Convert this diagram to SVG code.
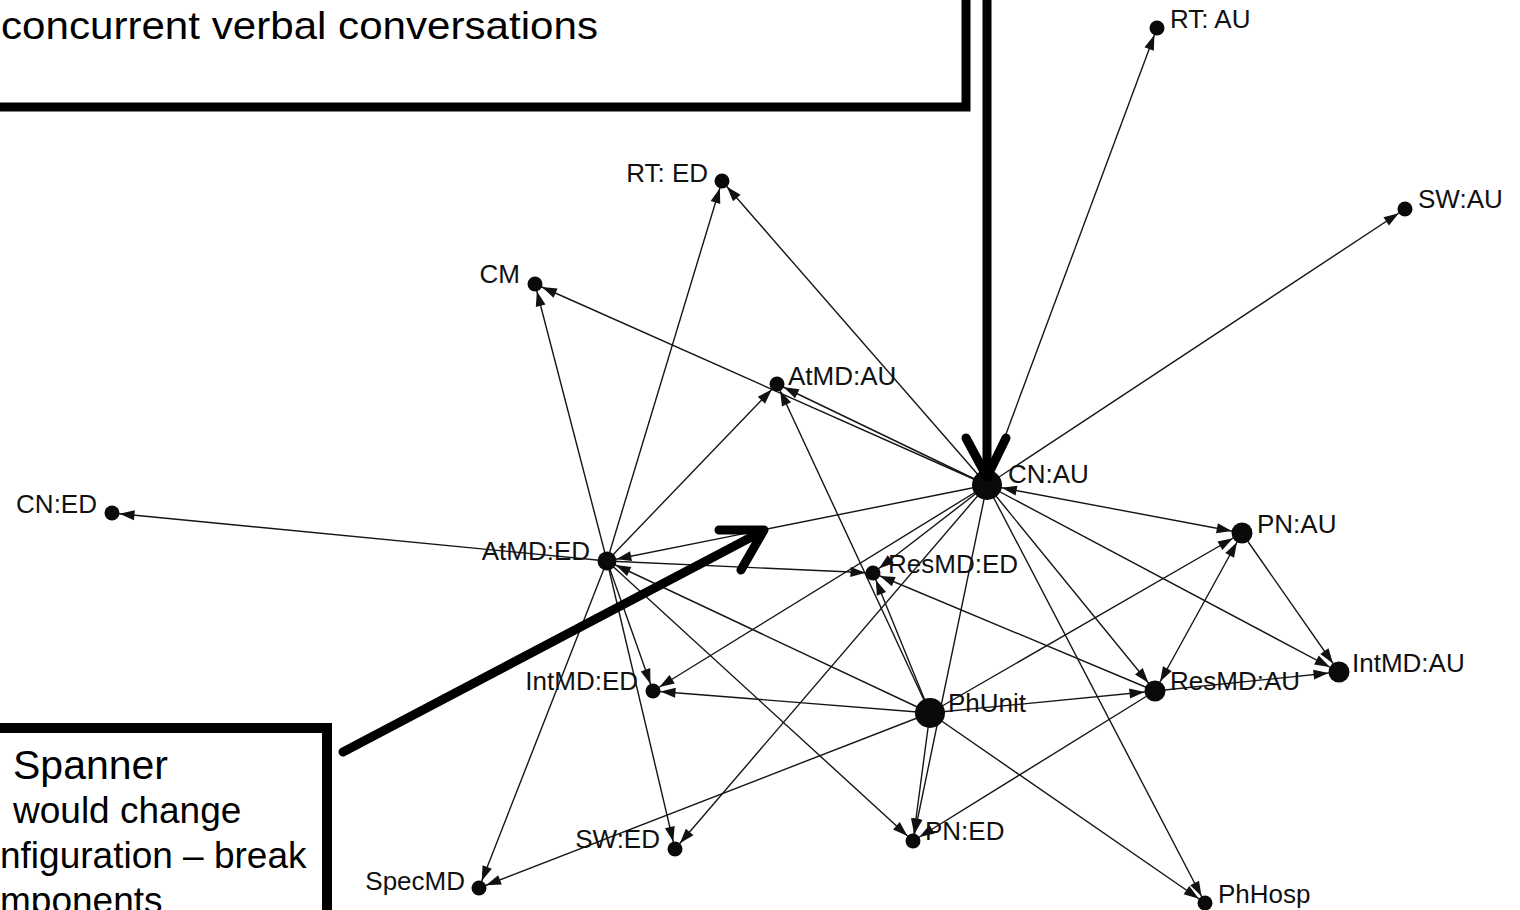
<svg xmlns="http://www.w3.org/2000/svg" width="1520" height="910" viewBox="0 0 1520 910">
<style>
.bg{fill:#ffffff}
.e{stroke:#151515;stroke-width:1.4;fill:none}
.n{fill:#0a0a0a}
.lb{font-family:"Liberation Sans",Arial,sans-serif;font-size:26px;fill:#111}
.le{font-family:"Liberation Sans",Arial,sans-serif;font-size:26px;fill:#111;text-anchor:end}
.box{fill:none;stroke:#000;stroke-width:9}
.big{stroke:#000;stroke-width:9;fill:none;stroke-linecap:round;stroke-linejoin:round}
.t1{font-family:"Liberation Sans",Arial,sans-serif;font-size:41px;fill:#000}
.t2{font-family:"Liberation Sans",Arial,sans-serif;font-size:37px;fill:#000}
</style>
<defs>
<marker id="m7" markerUnits="userSpaceOnUse" orient="auto-start-reverse" refX="7.5" refY="0" markerWidth="20" markerHeight="20" overflow="visible"><path d="M0,0 L-15,-5 L-15,5 Z" fill="#111"/></marker>
<marker id="m9" markerUnits="userSpaceOnUse" orient="auto-start-reverse" refX="9.5" refY="0" markerWidth="20" markerHeight="20" overflow="visible"><path d="M0,0 L-15,-5 L-15,5 Z" fill="#111"/></marker>
<marker id="m10" markerUnits="userSpaceOnUse" orient="auto-start-reverse" refX="10.5" refY="0" markerWidth="20" markerHeight="20" overflow="visible"><path d="M0,0 L-15,-5 L-15,5 Z" fill="#111"/></marker>
<marker id="m14" markerUnits="userSpaceOnUse" orient="auto-start-reverse" refX="15" refY="0" markerWidth="20" markerHeight="20" overflow="visible"><path d="M0,0 L-15,-5 L-15,5 Z" fill="#111"/></marker>
</defs>
<rect class="bg" x="0" y="0" width="1520" height="910"/>

<g id="connectors">
<line class="e" x1="987" y1="485" x2="1157" y2="28" marker-end="url(#m7)"/>
<line class="e" x1="987" y1="485" x2="1405" y2="209" marker-end="url(#m7)"/>
<line class="e" x1="987" y1="485" x2="722" y2="181" marker-end="url(#m7)"/>
<line class="e" x1="987" y1="485" x2="535" y2="284" marker-end="url(#m7)"/>
<line class="e" x1="987" y1="485" x2="777" y2="384" marker-end="url(#m7)"/>
<line class="e" x1="987" y1="485" x2="607" y2="561" marker-end="url(#m9)"/>
<line class="e" x1="987" y1="485" x2="1242" y2="533" marker-start="url(#m14)" marker-end="url(#m10)"/>
<line class="e" x1="987" y1="485" x2="1339" y2="672" marker-end="url(#m10)"/>
<line class="e" x1="987" y1="485" x2="1155" y2="691" marker-end="url(#m10)"/>
<line class="e" x1="987" y1="485" x2="1205" y2="903" marker-end="url(#m7)"/>
<line class="e" x1="987" y1="485" x2="873" y2="573" marker-end="url(#m7)"/>
<line class="e" x1="987" y1="485" x2="653" y2="691" marker-end="url(#m7)"/>
<line class="e" x1="987" y1="485" x2="675" y2="849" marker-end="url(#m7)"/>
<line class="e" x1="987" y1="485" x2="913" y2="841" marker-end="url(#m7)"/>
<line class="e" x1="607" y1="561" x2="112" y2="513" marker-end="url(#m7)"/>
<line class="e" x1="607" y1="561" x2="535" y2="284" marker-end="url(#m7)"/>
<line class="e" x1="607" y1="561" x2="722" y2="181" marker-end="url(#m7)"/>
<line class="e" x1="607" y1="561" x2="777" y2="384" marker-end="url(#m7)"/>
<line class="e" x1="607" y1="561" x2="873" y2="573" marker-end="url(#m7)"/>
<line class="e" x1="607" y1="561" x2="653" y2="691" marker-end="url(#m7)"/>
<line class="e" x1="607" y1="561" x2="675" y2="849" marker-end="url(#m7)"/>
<line class="e" x1="607" y1="561" x2="479" y2="888" marker-end="url(#m7)"/>
<line class="e" x1="607" y1="561" x2="913" y2="841" marker-end="url(#m7)"/>
<line class="e" x1="930" y1="713" x2="607" y2="561" marker-end="url(#m9)"/>
<line class="e" x1="930" y1="713" x2="653" y2="691" marker-end="url(#m7)"/>
<line class="e" x1="930" y1="713" x2="479" y2="888" marker-end="url(#m7)"/>
<line class="e" x1="930" y1="713" x2="913" y2="841" marker-end="url(#m7)"/>
<line class="e" x1="930" y1="713" x2="1205" y2="903" marker-end="url(#m7)"/>
<line class="e" x1="930" y1="713" x2="1155" y2="691" marker-end="url(#m10)"/>
<line class="e" x1="930" y1="713" x2="1242" y2="533" marker-end="url(#m10)"/>
<line class="e" x1="930" y1="713" x2="873" y2="573" marker-end="url(#m7)"/>
<line class="e" x1="930" y1="713" x2="777" y2="384" marker-end="url(#m7)"/>
<line class="e" x1="1155" y1="691" x2="873" y2="573" marker-end="url(#m7)"/>
<line class="e" x1="1155" y1="691" x2="1242" y2="533" marker-start="url(#m10)" marker-end="url(#m10)"/>
<line class="e" x1="1155" y1="691" x2="1339" y2="672" marker-end="url(#m10)"/>
<line class="e" x1="1155" y1="691" x2="913" y2="841" marker-end="url(#m7)"/>
<line class="e" x1="1242" y1="533" x2="1339" y2="672" marker-end="url(#m10)"/>
</g>

<g id="n-rtau"><circle class="n" cx="1157" cy="28" r="7.5"/><text class="lb" x="1170" y="28">RT: AU</text></g>
<g id="n-swau"><circle class="n" cx="1405" cy="209" r="7.5"/><text class="lb" x="1418" y="208">SW:AU</text></g>
<g id="n-rted"><circle class="n" cx="722" cy="181" r="7.5"/><text class="le" x="708" y="182">RT: ED</text></g>
<g id="n-cm"><circle class="n" cx="535" cy="284" r="7.5"/><text class="le" x="520" y="283">CM</text></g>
<g id="n-atmdau"><circle class="n" cx="777" cy="384" r="7.5"/><text class="lb" x="788" y="385">AtMD:AU</text></g>
<g id="n-cnau"><circle class="n" cx="987" cy="485" r="15"/><text class="lb" x="1008" y="483">CN:AU</text></g>
<g id="n-cned"><circle class="n" cx="112" cy="513" r="7.5"/><text class="le" x="97" y="513">CN:ED</text></g>
<g id="n-atmded"><circle class="n" cx="607" cy="561" r="9.5"/><text class="le" x="590" y="560">AtMD:ED</text></g>
<g id="n-resmded"><circle class="n" cx="873" cy="573" r="7.5"/><text class="lb" x="888" y="573">ResMD:ED</text></g>
<g id="n-pnau"><circle class="n" cx="1242" cy="533" r="10.5"/><text class="lb" x="1257" y="533">PN:AU</text></g>
<g id="n-intmded"><circle class="n" cx="653" cy="691" r="7.5"/><text class="le" x="638" y="690">IntMD:ED</text></g>
<g id="n-phunit"><circle class="n" cx="930" cy="713" r="15"/><text class="lb" x="948" y="712">PhUnit</text></g>
<g id="n-resmdau"><circle class="n" cx="1155" cy="691" r="10.5"/><text class="lb" x="1170" y="690">ResMD:AU</text></g>
<g id="n-intmdau"><circle class="n" cx="1339" cy="672" r="10.5"/><text class="lb" x="1352" y="672">IntMD:AU</text></g>
<g id="n-swed"><circle class="n" cx="675" cy="849" r="7.5"/><text class="le" x="660" y="848">SW:ED</text></g>
<g id="n-pned"><circle class="n" cx="913" cy="841" r="7.5"/><text class="lb" x="925" y="840">PN:ED</text></g>
<g id="n-specmd"><circle class="n" cx="479" cy="888" r="7.5"/><text class="le" x="465" y="890">SpecMD</text></g>
<g id="n-phhosp"><circle class="n" cx="1205" cy="903" r="7.5"/><text class="lb" x="1218" y="903">PhHosp</text></g>

<g id="callout-top">
<rect class="box" x="-20" y="-20" width="986" height="127"/>
<text class="t1" x="1" y="39" style="font-size:39px" textLength="597" lengthAdjust="spacingAndGlyphs">concurrent verbal conversations</text>
</g>
<g id="arrow-top">
<line class="big" x1="987" y1="-10" x2="987" y2="476" style="stroke-linecap:butt"/>
<polyline class="big" points="966,438 987,477 1006,438"/>
</g>

<g id="callout-spanner">
<rect class="box" x="-20" y="728" width="347" height="300" style="stroke-width:10"/>
<text class="t1" x="13" y="779">Spanner</text>
<text class="t2" x="13" y="823">would change</text>
<text class="t2" x="0" y="868">nfiguration – break</text>
<text class="t2" x="0" y="913">mponents</text>
</g>
<g id="arrow-spanner">
<line class="big" x1="343" y1="752" x2="763" y2="531"/>
<polyline class="big" points="719,530 764,530 741,570"/>
</g>
</svg>
